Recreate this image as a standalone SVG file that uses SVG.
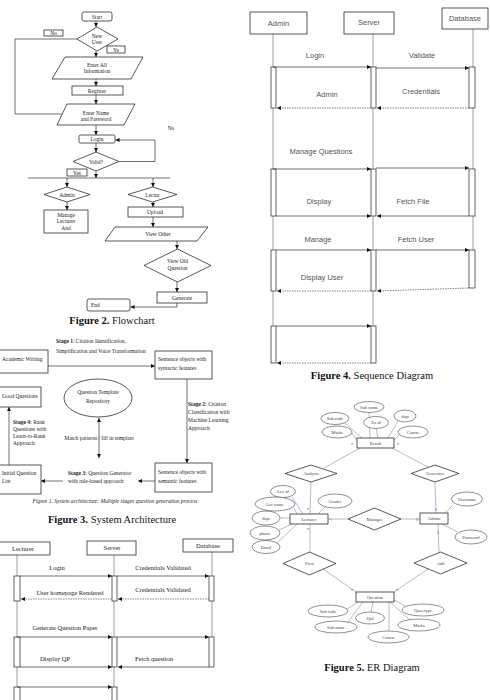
<svg xmlns="http://www.w3.org/2000/svg" width="490" height="700" viewBox="0 0 490 700">
<style>
.ln{stroke:#111;stroke-width:0.6;fill:none}
.bx{fill:#fff;stroke:#111;stroke-width:0.7}
.lf{stroke:#777;stroke-width:0.7;fill:none}
.ds{stroke:#333;stroke-width:0.6;fill:none;stroke-dasharray:1.5 1}
.act{fill:#fff;stroke:#222;stroke-width:0.7}
.er{stroke:#8aa3c8;stroke-width:0.7;fill:none}
.ee{fill:#fff;stroke:#222;stroke-width:0.5}
.t{font-family:"Liberation Serif",serif;font-size:5.5px;fill:#222;text-anchor:middle}
.tl{font-family:"Liberation Serif",serif;font-size:5.5px;fill:#222}
.cap{font-family:"Liberation Serif",serif;font-size:10.5px;fill:#111;text-anchor:middle}
.sq{font-family:"Liberation Sans",sans-serif;font-size:7.5px;fill:#555;text-anchor:middle}
.sl{font-family:"Liberation Serif",serif;font-size:6.5px;fill:#222;text-anchor:middle}
.et{font-family:"Liberation Serif",serif;font-size:4.5px;fill:#444;text-anchor:middle}
</style>
<defs>
<marker id="ah" viewBox="0 0 6 6" refX="6" refY="3" markerWidth="4" markerHeight="4" markerUnits="userSpaceOnUse" orient="auto-start-reverse"><path d="M0,0 L6,3 L0,6 z" fill="#111"/></marker>
<marker id="ao" viewBox="0 0 6 6" refX="6" refY="3" markerWidth="4" markerHeight="4" markerUnits="userSpaceOnUse" orient="auto"><path d="M0,0.5 L6,3 L0,5.5" fill="none" stroke="#333" stroke-width="1"/></marker>
</defs>
<rect width="490" height="700" fill="#fff"/>

<!-- ============ Figure 2 Flowchart ============ -->
<g id="connectors-flow">
<line class="ln" x1="96" y1="21" x2="96" y2="27" marker-end="url(#ah)"/>
<path class="ln" d="M77,39 H15 V114 H62"/>
<line class="ln" x1="96" y1="51" x2="96" y2="57" marker-end="url(#ah)"/>
<line class="ln" x1="96" y1="79" x2="96" y2="86" marker-end="url(#ah)"/>
<line class="ln" x1="96" y1="95" x2="96" y2="104" marker-end="url(#ah)"/>
<line class="ln" x1="96" y1="125" x2="96" y2="135" marker-end="url(#ah)"/>
<line class="ln" x1="96" y1="143" x2="96" y2="152" marker-end="url(#ah)"/>
<path class="ln" d="M119,161.5 H155 V140 H115.5" marker-end="url(#ah)"/>
<line class="ln" x1="96" y1="171" x2="96" y2="178" marker-end="url(#ah)"/>
<line class="ln" x1="28" y1="178" x2="170" y2="178"/>
<line class="ln" x1="67" y1="178" x2="67" y2="187" marker-end="url(#ah)"/>
<line class="ln" x1="67" y1="202" x2="67" y2="210" marker-end="url(#ah)"/>
<line class="ln" x1="153" y1="178" x2="153" y2="187" marker-end="url(#ah)"/>
<line class="ln" x1="153" y1="202" x2="153" y2="207" marker-end="url(#ah)"/>
<line class="ln" x1="153" y1="217" x2="153" y2="227" marker-end="url(#ah)"/>
<line class="ln" x1="177" y1="241" x2="177" y2="249" marker-end="url(#ah)"/>
<line class="ln" x1="177" y1="282" x2="177" y2="292" marker-end="url(#ah)"/>
<path class="ln" d="M177,303 V307 H130.5" marker-end="url(#ah)"/>
</g>
<g id="fc-start"><rect class="bx" x="82" y="12" width="30" height="9" rx="2"/><text class="t" x="97" y="18.5" font-size="6">Start</text></g>
<g id="fc-newuser"><polygon class="bx" points="97,27 118,39 97,51 77,39"/><text class="t" x="97" y="38">New</text><text class="t" x="97" y="44">User</text></g>
<g id="fc-no1"><rect class="bx" x="44" y="30" width="19" height="6"/><text class="t" x="53.5" y="35">No</text></g>
<g id="fc-ye"><rect class="bx" x="107" y="46" width="18" height="7"/><text class="t" x="116" y="51.5">Ye</text></g>
<g id="fc-enterall"><polygon class="bx" points="65,57 143,57 131,79 52,79"/><text class="t" x="97" y="67" font-size="6">Enter All</text><text class="t" x="97" y="73" font-size="4.5">Information</text></g>
<g id="fc-register"><rect class="bx" x="72" y="86" width="51" height="9"/><text class="t" x="97" y="92.5">Register</text></g>
<g id="fc-entername"><polygon class="bx" points="67,104 135,104 124,125 57,125"/><text class="t" x="96" y="114.5" font-size="6">Enter Name</text><text class="t" x="96" y="120.5" font-size="5">and Password</text></g>
<g id="fc-no2"><text class="t" x="171" y="130" font-size="5">No</text></g>
<g id="fc-login"><rect class="bx" x="79" y="135" width="36" height="8" rx="1.5"/><text class="t" x="97" y="141">Login</text></g>
<g id="fc-valid"><polygon class="bx" points="96,152 119,161.5 96,171 73,161.5"/><text class="t" x="96" y="163.5">Valid?</text></g>
<g id="fc-yes"><rect class="bx" x="67" y="169" width="20" height="7"/><text class="t" x="77" y="174.5">Yes</text></g>
<g id="fc-admin"><polygon class="bx" points="67,187 90,194.5 67,202 44,194.5"/><text class="t" x="67" y="196.5">Admin</text></g>
<g id="fc-manage"><rect class="bx" x="44" y="210" width="44" height="23"/><text class="t" x="66" y="216.5">Manage</text><text class="t" x="66" y="223">Lecturer</text><text class="t" x="66" y="230">And</text></g>
<g id="fc-lectur"><polygon class="bx" points="152.5,187 177,194.5 152.5,202 128,194.5"/><text class="t" x="152.5" y="196.5">Lectur</text></g>
<g id="fc-upload"><rect class="bx" x="128" y="207" width="55" height="10"/><text class="t" x="155" y="213.5">Upload</text></g>
<g id="fc-viewother"><polygon class="bx" points="115,227 208,227 197,241 105,241"/><text class="t" x="158" y="236">View Other</text></g>
<g id="fc-viewold"><polygon class="bx" points="177.5,249 211,265.5 177.5,282 144,265.5"/><text class="t" x="177.5" y="263">View Old</text><text class="t" x="177.5" y="270">Question</text></g>
<g id="fc-generate"><rect class="bx" x="157" y="292" width="50" height="11"/><text class="t" x="182" y="299.5">Generate</text></g>
<g id="fc-end"><rect class="bx" x="87" y="299" width="43" height="12" rx="2"/><text class="tl" x="91" y="306.5">End</text></g>
<text class="cap" x="112" y="324"><tspan font-weight="bold">Figure 2.</tspan> Flowchart</text>

<!-- ============ Figure 3 System Architecture ============ -->
<g id="connectors-arch">
<line class="ln" x1="48" y1="366" x2="155" y2="366" marker-end="url(#ah)"/>
<line class="ln" x1="187" y1="379" x2="187" y2="463" marker-end="url(#ah)"/>
<line class="ln" x1="155" y1="481" x2="138" y2="481" marker-end="url(#ah)"/>
<line class="ln" x1="63" y1="481" x2="41" y2="481" marker-end="url(#ah)"/>
<line class="ln" x1="9" y1="465" x2="9" y2="407" marker-end="url(#ah)"/>
<line class="ln" x1="99" y1="418" x2="99" y2="458" marker-start="url(#ah)" marker-end="url(#ah)"/>
</g>
<g id="ar-academic"><rect class="bx" x="-1" y="350" width="49" height="23"/><text class="tl" x="2" y="361">Academic Writing</text></g>
<g id="ar-stage1"><text class="tl" x="56" y="343" font-size="5"><tspan font-weight="bold">Stage 1</tspan>: Citation Identification,</text><text class="tl" x="56" y="353" font-size="5">Simplification and Voice Transformation</text></g>
<g id="ar-syntactic"><rect class="bx" x="155" y="351" width="57" height="28"/><text class="tl" x="158" y="361" font-size="5">Sentence objects with</text><text class="tl" x="158" y="369.5" font-size="5">syntactic features</text></g>
<g id="ar-good"><rect class="bx" x="-1" y="387" width="42" height="20"/><text class="tl" x="2" y="397.5" font-size="5">Good Questions</text></g>
<g id="ar-repo"><ellipse class="bx" cx="98" cy="398" rx="34" ry="19"/><text class="t" x="98" y="394" font-size="5">Question Template</text><text class="t" x="98" y="403" font-size="5">Repository</text></g>
<g id="ar-match"><text class="t" x="99" y="440" font-size="5">Match patterns / fill in template</text></g>
<g id="ar-stage4"><text class="tl" x="13" y="424" font-size="5"><tspan font-weight="bold">Stage 4:</tspan> Rank</text><text class="tl" x="13" y="431" font-size="5">Questions with</text><text class="tl" x="13" y="438" font-size="5">Learn-to-Rank</text><text class="tl" x="13" y="445" font-size="5">Approach</text></g>
<g id="ar-stage2"><text class="tl" x="188" y="406" font-size="5"><tspan font-weight="bold">Stage 2:</tspan> Citation</text><text class="tl" x="188" y="414" font-size="5">Classification with</text><text class="tl" x="188" y="422" font-size="5">Machine Learning</text><text class="tl" x="188" y="430" font-size="5">Approach</text></g>
<g id="ar-initial"><rect class="bx" x="-1" y="465" width="42" height="29"/><text class="tl" x="2" y="475" font-size="5">Initial Question</text><text class="tl" x="2" y="483" font-size="5">List</text></g>
<g id="ar-stage3"><text class="tl" x="68" y="475" font-size="5"><tspan font-weight="bold">Stage 3:</tspan> Question Generator</text><text class="tl" x="68" y="483" font-size="5">with rule-based approach</text></g>
<g id="ar-semantic"><rect class="bx" x="155" y="463" width="57" height="29"/><text class="tl" x="158" y="474" font-size="5">Sentence objects with</text><text class="tl" x="158" y="482.5" font-size="5">semantic features</text></g>
<text class="t" x="115" y="503" font-size="5" font-style="italic">Figure 1. System architecture: Multiple stages question generation process</text>
<text class="cap" x="112" y="523"><tspan font-weight="bold">Figure 3.</tspan> System Architecture</text>

<!-- ============ Lower-left sequence diagram ============ -->
<g id="connectors-seq2">
<line class="lf" x1="17" y1="555" x2="17" y2="700"/>
<line class="lf" x1="114" y1="555" x2="114" y2="700"/>
<line class="lf" x1="212" y1="552" x2="212" y2="667"/>
</g>
<g id="s2-lecturer"><rect class="bx" x="-1" y="542" width="51" height="13"/><text class="sl" x="23" y="550.5" font-size="6">Lecturer</text></g>
<g id="s2-server"><rect class="bx" x="87" y="541" width="49" height="14"/><text class="sl" x="112" y="549.5" font-size="6">Server</text></g>
<g id="s2-database"><rect class="bx" x="183" y="539" width="50" height="13"/><text class="sl" x="208" y="547.5" font-size="6">Database</text></g>
<g id="s2-acts">
<rect class="act" x="14" y="576" width="6" height="25"/><rect class="act" x="112" y="576" width="5" height="25"/><rect class="act" x="209" y="576" width="5" height="25"/>
<rect class="act" x="14" y="637" width="6" height="30"/><rect class="act" x="112" y="637" width="5" height="30"/><rect class="act" x="209" y="637" width="5" height="30"/>
<rect class="act" x="14" y="687" width="6" height="15"/><rect class="act" x="112" y="687" width="5" height="15"/>
</g>
<g id="s2-messages">
<line class="ln" x1="20" y1="576" x2="112" y2="576" marker-end="url(#ah)"/>
<line class="ln" x1="117" y1="576" x2="209" y2="576" marker-end="url(#ah)"/>
<line class="ds" x1="112" y1="599" x2="21" y2="599" marker-end="url(#ah)"/>
<line class="ds" x1="209" y1="599" x2="118" y2="599" marker-end="url(#ah)"/>
<line class="ln" x1="17" y1="637" x2="112" y2="637" marker-end="url(#ah)"/>
<line class="ln" x1="117" y1="637" x2="209" y2="637" marker-end="url(#ah)"/>
<line class="ln" x1="20" y1="667" x2="112" y2="667" marker-end="url(#ah)"/>
<line class="ln" x1="209" y1="667" x2="118" y2="667" marker-end="url(#ah)"/>
<line class="ln" x1="17" y1="687" x2="112" y2="687" marker-end="url(#ah)"/>
</g>
<g id="s2-labels">
<text class="sl" x="57" y="570">Login</text>
<text class="sl" x="163" y="570">Credentials Validated</text>
<text class="sl" x="163" y="592">Credentials Validated</text>
<text class="sl" x="70" y="594.5">User homepage Rendered</text>
<text class="sl" x="65" y="629.5">Generate Question Paper</text>
<text class="sl" x="55" y="660.5">Display QP</text>
<text class="sl" x="154" y="660.5">Fetch question</text>
</g>

<!-- ============ Figure 4 Sequence Diagram ============ -->
<g id="connectors-seq">
<line class="lf" x1="273" y1="34" x2="273" y2="326"/>
<line class="lf" x1="373" y1="34" x2="373" y2="326"/>
<line class="lf" x1="473" y1="29" x2="473" y2="250"/>
</g>
<g id="sq-admin"><rect class="bx" x="250" y="12" width="57" height="22" stroke="#555"/><text class="sq" x="278.5" y="26">Admin</text></g>
<g id="sq-server"><rect class="bx" x="344" y="12" width="50" height="22" stroke="#555"/><text class="sq" x="369" y="24.5">Server</text></g>
<g id="sq-database"><rect class="bx" x="442" y="8" width="46" height="21" stroke="#555"/><text class="sq" x="465" y="20.5">Database</text></g>
<g id="sq-acts">
<rect class="act" x="271" y="67" width="5" height="41"/><rect class="act" x="371" y="67" width="5" height="41"/><rect class="act" x="469" y="67" width="6" height="41"/>
<rect class="act" x="271" y="169" width="5" height="47"/><rect class="act" x="371" y="169" width="5" height="47"/><rect class="act" x="469" y="169" width="6" height="47"/>
<rect class="act" x="271" y="250" width="5" height="41"/><rect class="act" x="371" y="250" width="5" height="41"/><rect class="act" x="469" y="250" width="6" height="38"/>
<rect class="act" x="271" y="326" width="5" height="37"/><rect class="act" x="371" y="326" width="5" height="37"/>
</g>
<g id="sq-messages">
<line class="ln" x1="273" y1="67" x2="371" y2="67" marker-end="url(#ah)"/>
<line class="ln" x1="376" y1="68" x2="469" y2="68" marker-end="url(#ah)"/>
<line class="ds" x1="371" y1="108" x2="277" y2="108" marker-end="url(#ah)"/>
<line class="ds" x1="469" y1="108" x2="377" y2="108" marker-end="url(#ah)"/>
<line class="ln" x1="273" y1="169" x2="371" y2="169" marker-end="url(#ah)"/>
<line class="ln" x1="376" y1="168" x2="469" y2="168" marker-end="url(#ah)"/>
<line class="ln" x1="276" y1="216" x2="371" y2="216" marker-end="url(#ah)"/>
<line class="ln" x1="469" y1="216" x2="377" y2="216" marker-end="url(#ah)"/>
<line class="ln" x1="276" y1="250" x2="371" y2="250" marker-end="url(#ah)"/>
<line class="ln" x1="376" y1="250" x2="469" y2="250" marker-end="url(#ah)"/>
<line class="ds" x1="371" y1="291" x2="277" y2="291" marker-end="url(#ah)"/>
<line class="ds" x1="469" y1="288" x2="377" y2="291" marker-end="url(#ah)"/>
<line class="ln" x1="276" y1="326" x2="371" y2="326" marker-end="url(#ah)"/>
<line class="ds" x1="371" y1="363" x2="277" y2="363" marker-end="url(#ah)"/>
</g>
<g id="sq-labels">
<text class="sq" x="315" y="58">Login</text>
<text class="sq" x="422" y="58">Validate</text>
<text class="sq" x="327" y="97">Admin</text>
<text class="sq" x="421" y="93.5">Credentials</text>
<text class="sq" x="321" y="154">Manage Questions</text>
<text class="sq" x="319" y="204">Display</text>
<text class="sq" x="413" y="204">Fetch File</text>
<text class="sq" x="318" y="242">Manage</text>
<text class="sq" x="416" y="242">Fetch User</text>
<text class="sq" x="322" y="280">Display User</text>
</g>
<text class="cap" x="372" y="379"><tspan font-weight="bold">Figure 4.</tspan> Sequence Diagram</text>

<!-- ============ Figure 5 ER Diagram ============ -->
<g id="connectors-er">
<line class="er" x1="369" y1="412" x2="370" y2="438"/>
<line class="er" x1="345" y1="423" x2="362" y2="438"/>
<line class="er" x1="376" y1="428" x2="378" y2="438"/>
<line class="er" x1="398" y1="421" x2="388" y2="438"/>
<line class="er" x1="400" y1="434" x2="394" y2="440"/>
<line class="er" x1="352" y1="433" x2="357" y2="441"/>
<line class="er" x1="360" y1="448" x2="324" y2="468"/>
<line class="er" x1="392" y1="448" x2="428" y2="467"/>
<line class="er" x1="311" y1="482" x2="310" y2="514"/>
<line class="er" x1="435" y1="482" x2="436" y2="513"/>
<line class="er" x1="328" y1="519" x2="348" y2="519"/>
<line class="er" x1="401" y1="519" x2="420" y2="519"/>
<line class="er" x1="292" y1="497" x2="303" y2="514"/>
<line class="er" x1="294" y1="508" x2="297" y2="514"/>
<line class="er" x1="280" y1="518" x2="290" y2="518"/>
<line class="er" x1="279" y1="530" x2="292" y2="524"/>
<line class="er" x1="277" y1="543" x2="297" y2="524"/>
<line class="er" x1="325" y1="507" x2="318" y2="514"/>
<line class="er" x1="453" y1="505" x2="445" y2="513"/>
<line class="er" x1="442" y1="524" x2="458" y2="532"/>
<line class="er" x1="310" y1="524" x2="310" y2="552"/>
<line class="er" x1="438" y1="524" x2="439" y2="552"/>
<line class="er" x1="323" y1="569" x2="356" y2="592"/>
<line class="er" x1="428" y1="569" x2="394" y2="592"/>
<line class="er" x1="358" y1="602" x2="347" y2="609"/>
<line class="er" x1="363" y1="602" x2="348" y2="622"/>
<line class="er" x1="373" y1="602" x2="371" y2="612"/>
<line class="er" x1="389" y1="602" x2="389" y2="631" stroke-width="1.2"/>
<line class="er" x1="390" y1="602" x2="410" y2="620"/>
<line class="er" x1="394" y1="600" x2="405" y2="606"/>
</g>
<g id="er-cards" font-family="Liberation Serif,serif" font-size="5" fill="#333" text-anchor="middle">
<text x="352" y="446">*</text><text x="398" y="446">*</text>
<text x="308" y="511">*</text><text x="436" y="511">1</text>
<text x="331" y="521">&lt;</text><text x="417" y="521">1</text>
<text x="308" y="531">*</text><text x="438" y="534">1</text>
<text x="352" y="592">*</text><text x="397" y="592">*</text>
</g>
<g id="er-result"><rect class="bx" x="357" y="438" width="37" height="10" stroke="#555"/><text class="et" x="375.5" y="444.5">Result</text></g>
<g id="er-subname1"><ellipse class="ee" cx="369" cy="407" rx="15" ry="5.5"/><text class="et" x="369" y="408.5">Sub name</text></g>
<g id="er-subcode1"><ellipse class="ee" cx="335" cy="418.5" rx="14" ry="6"/><text class="et" x="335" y="420">Sub code</text></g>
<g id="er-exid"><ellipse class="ee" cx="376" cy="422.5" rx="12.5" ry="6"/><text class="et" x="376" y="424">Ex id</text></g>
<g id="er-dept1"><ellipse class="ee" cx="405" cy="416" rx="11" ry="6"/><text class="et" x="405" y="417.5">dept</text></g>
<g id="er-course1"><ellipse class="ee" cx="413" cy="432" rx="15" ry="6"/><text class="et" x="413" y="433.5">Course</text></g>
<g id="er-marks1"><ellipse class="ee" cx="337" cy="432" rx="15" ry="6"/><text class="et" x="337" y="433.5">Marks</text></g>
<g id="er-analysis"><polygon class="bx" points="311,465 337,473.5 311,482 285,473.5" stroke="#555"/><text class="et" x="311" y="475">Analysis</text></g>
<g id="er-generates"><polygon class="bx" points="435,465 459,473.5 435,482 411,473.5" stroke="#555"/><text class="et" x="435" y="475">Generates</text></g>
<g id="er-lecturer"><rect class="bx" x="290" y="514" width="38" height="10" stroke="#222" stroke-width="0.9"/><text class="et" x="309" y="520.5">Lecturer</text></g>
<g id="er-manages"><polygon class="bx" points="374.5,508 401,519 374.5,530 348,519" stroke="#555"/><text class="et" x="374.5" y="520.5">Manages</text></g>
<g id="er-adminent"><rect class="bx" x="420" y="513" width="28" height="11" stroke="#555"/><text class="et" x="434" y="520">Admin</text></g>
<g id="er-username"><ellipse class="ee" cx="467" cy="499" rx="15.5" ry="7"/><text class="et" x="467" y="500.5">Username</text></g>
<g id="er-password"><ellipse class="ee" cx="471" cy="537" rx="16" ry="7"/><text class="et" x="471" y="538.5">Password</text></g>
<g id="er-lecid"><ellipse class="ee" cx="283" cy="491.5" rx="12.5" ry="6"/><text class="et" x="283" y="493">Lec id</text></g>
<g id="er-lecname"><ellipse class="ee" cx="275" cy="504" rx="20" ry="7"/><text class="et" x="275" y="505.5">Lec name</text></g>
<g id="er-dept2"><ellipse class="ee" cx="266" cy="518" rx="14" ry="7"/><text class="et" x="266" y="519.5">dept</text></g>
<g id="er-phone"><ellipse class="ee" cx="265" cy="533" rx="15" ry="7"/><text class="et" x="265" y="534.5">phone</text></g>
<g id="er-email"><ellipse class="ee" cx="266" cy="547" rx="14" ry="6.5"/><text class="et" x="266" y="548.5">Email</text></g>
<g id="er-gender"><ellipse class="ee" cx="335" cy="501" rx="17" ry="7"/><text class="et" x="335" y="502.5">Gender</text></g>
<g id="er-view"><polygon class="bx" points="309.5,552 336,563.5 309.5,575 283,563.5" stroke="#555"/><text class="et" x="309.5" y="565">View</text></g>
<g id="er-add"><polygon class="bx" points="440.5,552 467,563 440.5,574 414,563" stroke="#555"/><text class="et" x="440.5" y="564.5">Add</text></g>
<g id="er-question"><rect class="bx" x="356" y="592" width="38" height="10" stroke="#555"/><text class="et" x="375" y="598.5">Question</text></g>
<g id="er-subcode2"><ellipse class="ee" cx="328" cy="611" rx="20" ry="6"/><text class="et" x="328" y="612.5">Sub code</text></g>
<g id="er-subname2"><ellipse class="ee" cx="336" cy="627" rx="21" ry="6"/><text class="et" x="336" y="628.5">Sub name</text></g>
<g id="er-qid"><ellipse class="ee" cx="370" cy="618" rx="14.5" ry="6"/><text class="et" x="370" y="619.5">Qid</text></g>
<g id="er-course2"><ellipse class="ee" cx="388.5" cy="637" rx="20.5" ry="6"/><text class="et" x="388.5" y="638.5">Course</text></g>
<g id="er-marks2"><ellipse class="ee" cx="419" cy="625" rx="21" ry="6"/><text class="et" x="419" y="626.5">Marks</text></g>
<g id="er-questype"><ellipse class="ee" cx="423" cy="610" rx="21" ry="6"/><text class="et" x="423" y="611.5">Ques type</text></g>
<text class="cap" x="372" y="671"><tspan font-weight="bold">Figure 5.</tspan> ER Diagram</text>
</svg>
